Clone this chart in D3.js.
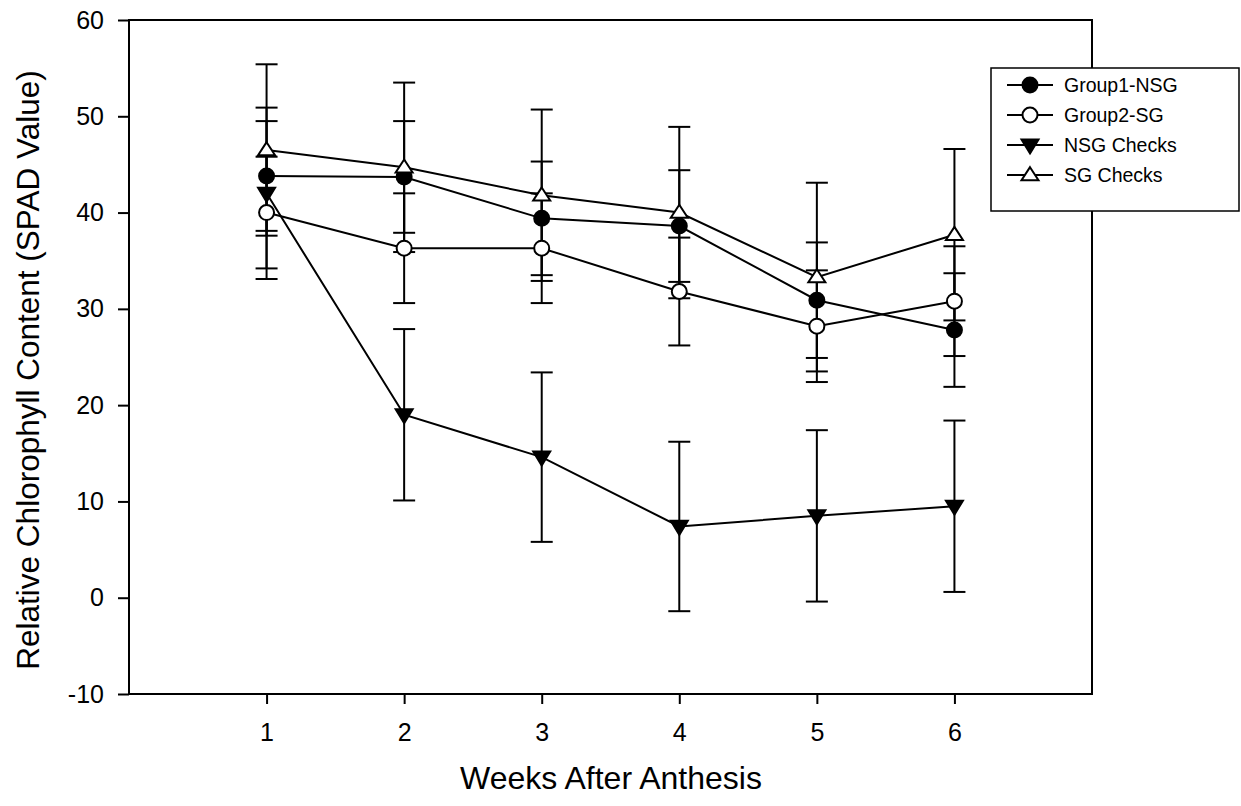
<!DOCTYPE html>
<html>
<head>
<meta charset="utf-8">
<script src="https://cdn.jsdelivr.net/npm/d3@7/dist/d3.min.js"></script>
<style>
  html, body { margin: 0; padding: 0; background: #fff; }
  svg { display: block; }
  text { font-family: "Liberation Sans", Arial, sans-serif; fill: #000; }
</style>
</head>
<body>
<svg id="chart" width="1241" height="806"></svg>
<script>
// Weeks after anthesis
const weeks = [1, 2, 3, 4, 5, 6];

// Mean SPAD readings and their error half-widths
const group1Nsg    = [43.8, 43.7, 39.4, 38.6, 30.9, 27.8];
const group1NsgErr = [5.7, 5.8, 5.9, 5.8, 6.0, 5.9];
const group2Sg     = [40.0, 36.3, 36.3, 31.8, 28.2, 30.8];
const group2SgErr  = [5.8, 5.7, 5.7, 5.6, 5.8, 5.7];
const nsgChecks    = [42.0, 19.0, 14.6, 7.4, 8.5, 9.5];
const nsgChecksErr = [8.9, 8.9, 8.8, 8.8, 8.9, 8.9];
const sgChecks     = [46.5, 44.7, 41.8, 40.0, 33.3, 37.7];
const sgChecksErr  = [8.9, 8.8, 8.9, 8.9, 9.8, 8.9];

const yTicks = [-10, 0, 10, 20, 30, 40, 50, 60];
const seriesNames = ["Group1-NSG", "Group2-SG", "NSG Checks", "SG Checks"];
const seriesSymbols = ["circleFilled", "circleOpen", "triangleDown", "triangleUp"];

const series = [
  { name: seriesNames[0], symbol: seriesSymbols[0], values: group1Nsg, errs: group1NsgErr },
  { name: seriesNames[1], symbol: seriesSymbols[1], values: group2Sg,  errs: group2SgErr },
  { name: seriesNames[2], symbol: seriesSymbols[2], values: nsgChecks, errs: nsgChecksErr },
  { name: seriesNames[3], symbol: seriesSymbols[3], values: sgChecks,  errs: sgChecksErr }
];

const svg = d3.select("#chart");
const plotLeft = 129, plotRight = 1092, plotTop = 20, plotBottom = 694;

const x = d3.scaleLinear().domain([0, 7]).range([plotLeft, plotRight]);
const y = d3.scaleLinear().domain([-10, 60]).range([plotBottom, plotTop]);

// Axes (plain hyphen for negative labels)
const yAxis = d3.axisLeft(y).tickValues(yTicks).tickSize(11).tickPadding(14).tickFormat(d => String(d));
const gy = svg.append("g").attr("transform", `translate(${plotLeft},0)`).call(yAxis);
gy.select(".domain").remove();
gy.selectAll(".tick line").attr("stroke", "#000").attr("stroke-width", 2);
gy.selectAll(".tick text").style("font-size", "25px").style("font-family", "Liberation Sans, Arial, sans-serif");

const xAxis = d3.axisBottom(x).tickValues(weeks).tickSize(10).tickPadding(19).tickFormat(d => String(d));
const gx = svg.append("g").attr("transform", `translate(0,${plotBottom})`).call(xAxis);
gx.select(".domain").remove();
gx.selectAll(".tick line").attr("stroke", "#000").attr("stroke-width", 2);
gx.selectAll(".tick text").style("font-size", "25px").style("font-family", "Liberation Sans, Arial, sans-serif");

// Plot frame
svg.append("rect")
  .attr("x", plotLeft).attr("y", plotTop)
  .attr("width", plotRight - plotLeft).attr("height", plotBottom - plotTop)
  .attr("fill", "none").attr("stroke", "#000").attr("stroke-width", 2);

// Axis titles
svg.append("text")
  .attr("x", 611).attr("y", 789)
  .attr("text-anchor", "middle")
  .style("font-size", "32px")
  .text("Weeks After Anthesis");

svg.append("text")
  .attr("transform", `translate(39,${(plotTop + plotBottom) / 2 + 13}) rotate(-90)`)
  .attr("text-anchor", "middle")
  .style("font-size", "31.5px")
  .text("Relative Chlorophyll Content (SPAD Value)");

// Marker drawing
function drawSymbol(g, kind, cx, cy) {
  if (kind === "circleFilled" || kind === "circleOpen") {
    g.append("circle").attr("cx", cx).attr("cy", cy).attr("r", 7.5)
      .attr("fill", kind === "circleFilled" ? "#000" : "#fff")
      .attr("stroke", "#000").attr("stroke-width", 2);
  } else if (kind === "triangleUp") {
    const w = 8.5, h = 13;
    g.append("path")
      .attr("d", `M${cx},${cy - h * 0.6}L${cx + w},${cy + h * 0.4}L${cx - w},${cy + h * 0.4}Z`)
      .attr("fill", "#fff").attr("stroke", "#000").attr("stroke-width", 2)
      .attr("stroke-linejoin", "miter");
  } else {
    const w = 8.5, h = 14;
    g.append("path")
      .attr("d", `M${cx},${cy + h * 0.6}L${cx + w},${cy - h * 0.4}L${cx - w},${cy - h * 0.4}Z`)
      .attr("fill", "#000").attr("stroke", "#000").attr("stroke-width", 2)
      .attr("stroke-linejoin", "miter");
  }
}

const line = d3.line().x((d, i) => x(weeks[i])).y(d => y(d));
const capHalf = 11;

series.forEach(s => {
  const g = svg.append("g");
  // Error bars
  s.values.forEach((v, i) => {
    const cx = x(weeks[i]);
    const y1 = y(v + s.errs[i]), y0 = y(v - s.errs[i]);
    g.append("line").attr("x1", cx).attr("x2", cx).attr("y1", y1).attr("y2", y0)
      .attr("stroke", "#000").attr("stroke-width", 2);
    [y1, y0].forEach(yy => {
      g.append("line").attr("x1", cx - capHalf).attr("x2", cx + capHalf)
        .attr("y1", yy).attr("y2", yy)
        .attr("stroke", "#000").attr("stroke-width", 2);
    });
  });
  // Connecting line
  g.append("path").attr("d", line(s.values))
    .attr("fill", "none").attr("stroke", "#000").attr("stroke-width", 2);
});

// Symbols on top
series.forEach(s => {
  const g = svg.append("g");
  s.values.forEach((v, i) => drawSymbol(g, s.symbol, x(weeks[i]), y(v)));
});

// Legend
const lg = svg.append("g");
lg.append("rect").attr("x", 991).attr("y", 68).attr("width", 248).attr("height", 143)
  .attr("fill", "#fff").attr("stroke", "#000").attr("stroke-width", 1.5);
series.forEach((s, i) => {
  const ly = 85 + i * 30;
  lg.append("line").attr("x1", 1007).attr("x2", 1053).attr("y1", ly).attr("y2", ly)
    .attr("stroke", "#000").attr("stroke-width", 2);
  drawSymbol(lg, s.symbol, 1030, ly);
  lg.append("text").attr("x", 1064).attr("y", ly + 7)
    .style("font-size", "19.5px").text(s.name);
});
</script>
</body>
</html>
